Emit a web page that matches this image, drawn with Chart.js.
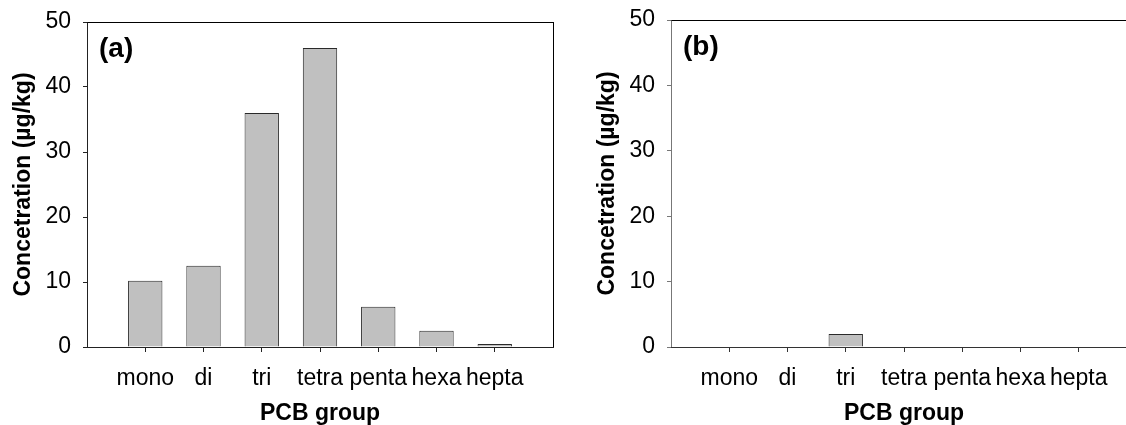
<!DOCTYPE html>
<html>
<head>
<meta charset="utf-8">
<script src="https://cdn.jsdelivr.net/npm/chart.js@4/dist/chart.umd.min.js"></script>
<style>
html, body { margin: 0; padding: 0; background: #fff; overflow: hidden; width: 1126px; height: 425px; }
.panel { position: absolute; top: 0; width: 560px; height: 425px; }
#panelA { left: 0; }
#panelB { left: 584px; }
</style>
</head>
<body>
<div class="panel" id="panelA"><canvas id="chartA"></canvas></div>
<div class="panel" id="panelB"><canvas id="chartB"></canvas></div>
<script>
const categories = ["mono", "di", "tri", "tetra", "penta", "hexa", "hepta"];
const valuesA = [10.2, 12.5, 36, 46, 6.2, 2.5, 0.45];
const valuesB = [0, 0, 2, 0, 0, 0, 0];
const yTickValues = [0, 10, 20, 30, 40, 50];
const yTitle = "Concetration (µg/kg)";
const xTitle = "PCB group";

const FONT = "'Liberation Sans', Arial, Helvetica, sans-serif";

// box round the plot area plus the panel tag, drawn over the bars
function framePlugin(colors, tag) {
    return {
        id: "frame",
        afterDraw(chart) {
            const { ctx, chartArea: a } = chart;
            const l = Math.round(a.left) + 0.5;
            const r = Math.round(a.right) + 0.5;
            const t = Math.round(a.top) + 0.5;
            const b = Math.round(a.bottom) + 0.5;
            ctx.save();
            ctx.lineWidth = 1;
            const seg = (c, x1, y1, x2, y2) => {
                ctx.strokeStyle = c;
                ctx.beginPath();
                ctx.moveTo(x1, y1);
                ctx.lineTo(x2, y2);
                ctx.stroke();
            };
            seg(colors.top, l - 0.5, t, r + 0.5, t);
            seg(colors.right, r, t, r, b);
            seg(colors.left, l, t, l, b);
            seg(colors.bottom, l - 0.5, b, r + 0.5, b);
            ctx.fillStyle = "#000";
            ctx.font = "bold 28px " + FONT;
            ctx.textBaseline = "alphabetic";
            ctx.fillText(tag, a.left + 12, a.top + 35);
            ctx.restore();
        },
    };
}

function makeChart(canvasId, values, tag, topPad, colors) {
    return new Chart(document.getElementById(canvasId), {
        type: "bar",
        data: {
            datasets: [{
                data: values.map((v, i) => ({ x: i, y: v })),
                backgroundColor: "#c0c0c0",
                borderColor: "#2a2a2a",
                borderWidth: 1,
                barPercentage: 0.59,
                categoryPercentage: 1,
            }],
        },
        options: {
            responsive: true,
            maintainAspectRatio: false,
            animation: false,
            devicePixelRatio: 1,
            layout: { padding: { left: 0, right: 7, top: topPad, bottom: 0 } },
            plugins: {
                legend: { display: false },
                tooltip: { enabled: false },
            },
            scales: {
                x: {
                    type: "linear",
                    min: -1,
                    max: 7,
                    offset: false,
                    afterBuildTicks: (s) => { s.ticks = categories.map((_, i) => ({ value: i })); },
                    afterFit: (s) => { s.height = 78; s.paddingLeft = 0; s.paddingRight = 0; },
                    border: { display: false },
                    grid: { offset: false, drawOnChartArea: false, tickLength: 5, tickColor: colors.bottom },
                    ticks: {
                        autoSkip: false,
                        maxRotation: 0,
                        color: "#000",
                        padding: 13,
                        font: { family: FONT, size: 23 },
                        callback: (v) => categories[v] ?? "",
                    },
                    title: {
                        display: true,
                        text: xTitle,
                        color: "#000",
                        padding: { top: 0, bottom: 0 },
                        font: { family: FONT, size: 23, weight: "bold", lineHeight: 1 },
                    },
                },
                y: {
                    min: 0,
                    max: 50,
                    afterBuildTicks: (s) => { s.ticks = yTickValues.map((v) => ({ value: v })); },
                    // fixed axis width, and keep the top label from pushing the plot down
                    afterFit: (s) => { s.width = 87; s.paddingTop = 0; s.paddingBottom = 0; },
                    border: { display: false },
                    grid: { drawOnChartArea: false, tickLength: 4, tickColor: colors.left },
                    ticks: {
                        color: "#000",
                        padding: 12,
                        font: { family: FONT, size: 23 },
                    },
                    title: {
                        display: true,
                        text: yTitle,
                        color: "#000",
                        padding: { top: 10, bottom: 0 },
                        font: { family: FONT, size: 23, weight: "bold" },
                    },
                },
            },
        },
        plugins: [framePlugin(colors, tag)],
    });
}

makeChart("chartA", valuesA, "(a)", 22, { top: "#000", right: "#000", left: "#222", bottom: "#222" });
makeChart("chartB", valuesB, "(b)", 20, { top: "#000", right: "#000", left: "#777", bottom: "#333" });
</script>
</body>
</html>
